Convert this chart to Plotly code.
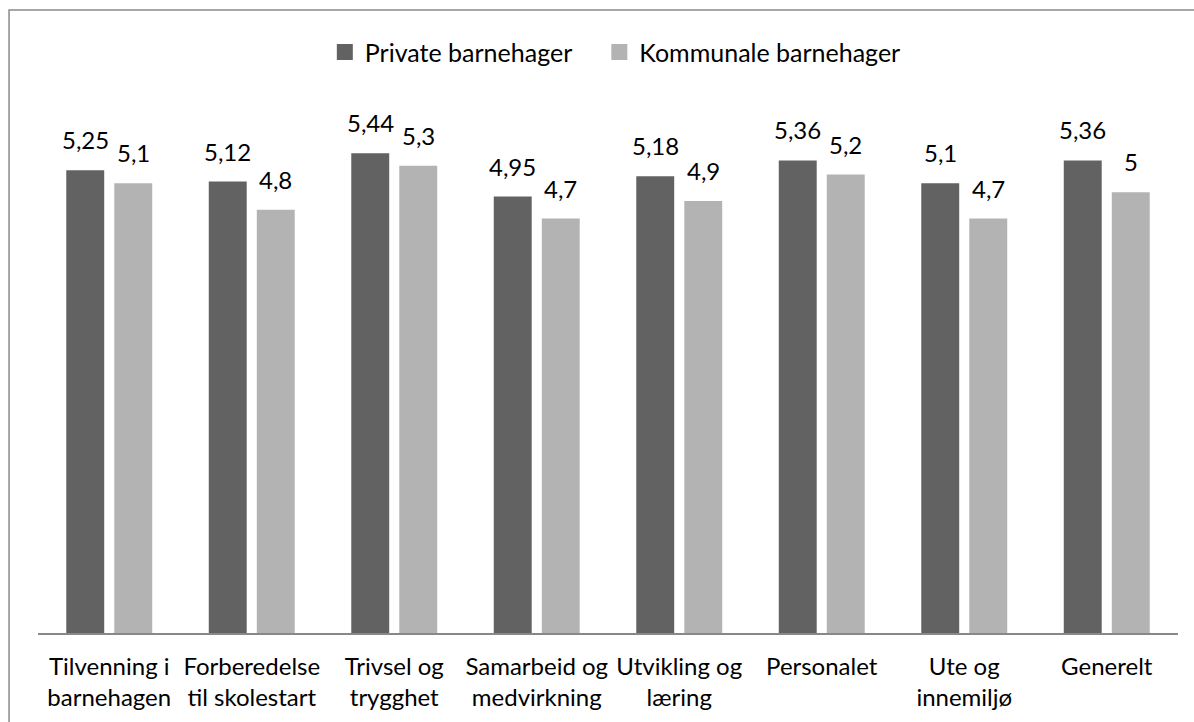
import plotly.graph_objects as go

categories = [
    "Tilvenning i<br>barnehagen",
    "Forberedelse<br>til skolestart",
    "Trivsel og<br>trygghet",
    "Samarbeid og<br>medvirkning",
    "Utvikling og<br>læring",
    "Personalet",
    "Ute og<br>innemiljø",
    "Generelt",
]
private_vals = [5.25, 5.12, 5.44, 4.95, 5.18, 5.36, 5.1, 5.36]
kommunal_vals = [5.1, 4.8, 5.3, 4.7, 4.9, 5.2, 4.7, 5]
series_names = ["Private barnehager", "Kommunale barnehager"]
colors = ["#626262", "#b3b3b3"]
legend_ids = ["legend", "legend2"]

FONT = "Lato"
FS = 24
FS_LEG = 25


def fmt(v):
    s = ("%g" % v)
    return s.replace(".", ",")


fig = go.Figure()
for name, vals, col, lg in zip(series_names, [private_vals, kommunal_vals], colors, legend_ids):
    fig.add_trace(go.Bar(
        x=categories, y=vals, name=name, marker_color=col,
        marker_line_width=0, showlegend=False, hoverinfo="x+y",
    ))
    # legend proxy with larger square swatch
    fig.add_trace(go.Scatter(
        x=[None], y=[None], mode="markers", name=name, legend=lg,
        marker=dict(symbol="square", size=16, color=col),
    ))

annotations = []
for vals, dx in [(private_vals, -24), (kommunal_vals, 24)]:
    for c, v in zip(categories, vals):
        annotations.append(dict(
            x=c, y=v, text=fmt(v), showarrow=False,
            xshift=dx, yshift=14, yanchor="bottom", xanchor="center",
            font=dict(family=FONT, size=FS, color="#000000"),
        ))

leg_common = dict(
    orientation="h", yanchor="middle", y=1.098, xanchor="left",
    font=dict(family=FONT, size=FS_LEG), itemwidth=30,
    bgcolor="rgba(0,0,0,0)",
)

fig.update_layout(
    width=1194, height=722,
    margin=dict(l=38, r=16, t=104, b=89),
    paper_bgcolor="white", plot_bgcolor="white",
    barmode="group", bargap=0.326, bargroupgap=0.21,
    font=dict(family=FONT, size=FS, color="#000000"),
    legend=dict(x=0.2516, **leg_common),
    legend2=dict(x=0.4924, **leg_common),
    annotations=annotations,
    shapes=[dict(
        type="rect", xref="paper", yref="paper",
        x0=-0.0254, x1=1.02, y0=-0.2, y1=1.1777,
        line=dict(color="#8a8a8a", width=1.5), fillcolor="rgba(0,0,0,0)",
        layer="below",
    )],
)
fig.update_xaxes(
    showline=True, linecolor="#888888", linewidth=1.5,
    ticks="", showgrid=False, tickfont=dict(family=FONT, size=FS),
    ticklabelstandoff=11,
)
fig.update_yaxes(range=[0, 6], visible=False, showgrid=False)

fig.write_html(
    "out.html",
    config={"displayModeBar": False},
    post_script="document.body.style.margin='0';document.body.style.overflow='hidden';",
)
